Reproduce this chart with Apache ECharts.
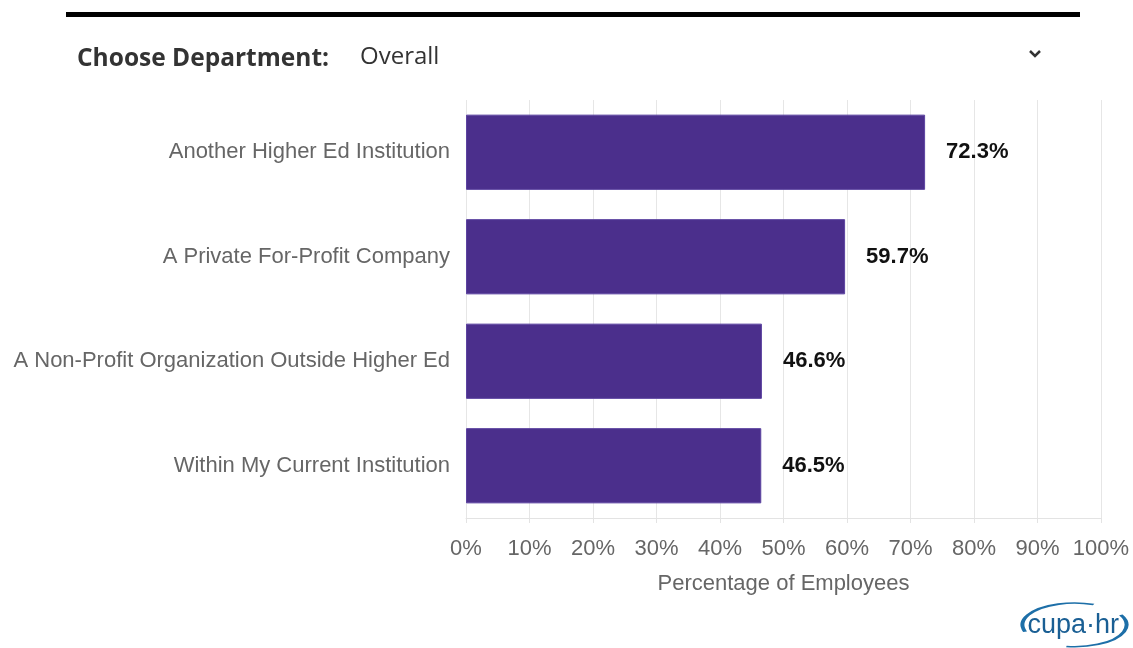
<!DOCTYPE html>
<html>
<head>
<meta charset="utf-8">
<script src="https://cdn.jsdelivr.net/npm/echarts@6/dist/echarts.min.js"></script>
<style>
  html, body { margin: 0; padding: 0; background: #fff; }
  #chart { width: 1133px; height: 648px; }
</style>
</head>
<body>
<div id="chart"></div>
<script>
// Where employees would look for their next job (share of employees)
const categories = [
  'Another Higher Ed Institution',
  'A Private For-Profit Company',
  'A Non-Profit Organization Outside Higher Ed',
  'Within My Current Institution'
];
const values = [72.3, 59.7, 46.6, 46.5];
const xTicks = [0, 10, 20, 30, 40, 50, 60, 70, 80, 90, 100];
const departmentLabel = 'Choose Department:';
const departmentValue = 'Overall';
const axisTitle = 'Percentage of Employees';

const FONT = 'Liberation Sans, Arial';
const chart = echarts.init(document.getElementById('chart'), null, { renderer: 'canvas' });

chart.setOption({
  animation: false,
  grid: { left: 466, right: 32, top: 100, bottom: 130, containLabel: false },
  xAxis: {
    type: 'value',
    min: xTicks[0],
    max: xTicks[xTicks.length - 1],
    interval: 10,
    name: axisTitle,
    nameLocation: 'middle',
    nameGap: 55,
    nameTextStyle: { color: '#666', fontSize: 22, fontFamily: FONT },
    axisLine: { show: true, lineStyle: { color: '#e3e3e3', width: 1 } },
    axisTick: { show: true, length: 5, lineStyle: { color: '#e3e3e3' } },
    splitLine: { show: true, lineStyle: { color: '#e6e6e6', width: 1 } },
    axisLabel: {
      color: '#666', fontSize: 22, margin: 20,
      fontFamily: FONT,
      formatter: v => v + '%'
    }
  },
  yAxis: {
    type: 'category',
    inverse: true,
    data: categories,
    axisLine: { show: false },
    axisTick: { show: false },
    axisLabel: { color: '#666', fontSize: 22, margin: 16, fontFamily: FONT }
  },
  series: [{
    type: 'bar',
    data: values,
    barCategoryGap: '28%',
    itemStyle: { color: '#4b2f8c', borderColor: '#5c43a0', borderWidth: 1 },
    label: {
      show: true,
      position: 'right',
      distance: 21,
      color: '#111',
      fontSize: 22,
      fontWeight: 'bold',
      fontFamily: FONT,
      formatter: p => p.value.toFixed(1) + '%'
    }
  }],
  graphic: [
    // top rule
    { type: 'rect', shape: { x: 66, y: 12, width: 1014, height: 5 }, style: { fill: '#000' } },
    // department selector
    {
      type: 'text', left: 77, top: 47,
      style: { text: departmentLabel, fill: '#333', font: 'bold 24.5px "Open Sans", "DejaVu Sans", sans-serif' }
    },
    {
      type: 'text', left: 360, top: 45,
      style: { text: departmentValue, fill: '#333', font: '24px "Open Sans", "DejaVu Sans", sans-serif' }
    },
    {
      type: 'polyline',
      shape: { points: [[1030, 51], [1035, 56], [1040, 51]] },
      style: { stroke: '#333', lineWidth: 2.5, fill: null }
    },
    // cupa-hr logo
    {
      type: 'group', left: 1020, top: 602,
      children: [
        {
          type: 'arc',
          shape: { cx: 57, cy: 22, r: 52, startAngle: Math.PI * 0.9, endAngle: Math.PI * 1.62 },
          scaleY: 0.42, originY: 22,
          style: { stroke: '#1d6fa8', lineWidth: 4, fill: null }
        },
        {
          type: 'arc',
          shape: { cx: 57, cy: 22, r: 52, startAngle: Math.PI * 1.85, endAngle: Math.PI * 0.55 },
          scaleY: 0.42, originY: 22,
          style: { stroke: '#1d6fa8', lineWidth: 4, fill: null }
        },
        {
          type: 'text', x: 10, y: 9,
          style: { text: 'cupa·hr', fill: '#1a5f94', font: '27px "Liberation Sans Narrow", "Liberation Sans", Arial' }
        }
      ]
    }
  ]
});
</script>
</body>
</html>
